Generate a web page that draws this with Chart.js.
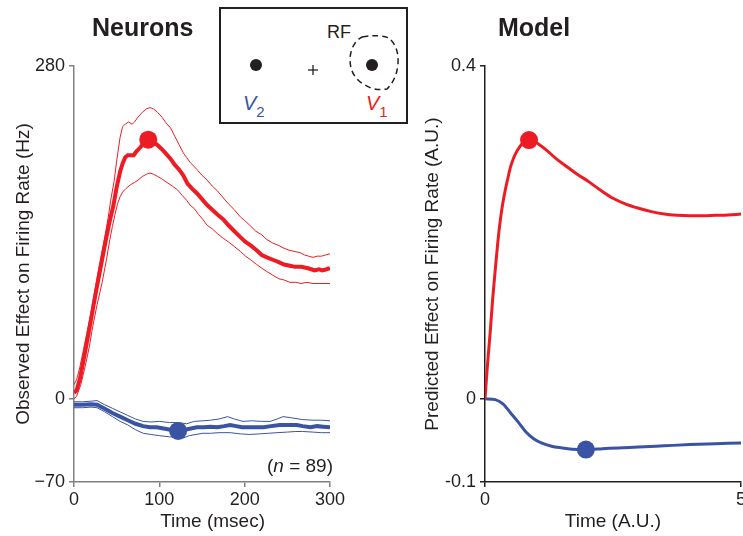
<!DOCTYPE html>
<html>
<head>
<meta charset="utf-8">
<script src="https://cdn.jsdelivr.net/npm/chart.js@4/dist/chart.umd.min.js"></script>
<style>
  body { margin: 0; width: 743px; height: 536px; overflow: hidden; background: #fff; position: relative;
         font-family: "Liberation Sans", Arial, sans-serif; color: #231f20; }
  .panel-title { position: absolute; top: 15px; font-size: 25px; font-weight: bold; line-height: 25px; }
  #left { position: absolute; left: 0; top: 0; }
  #right { position: absolute; left: 390px; top: 0; }
  #nlabel { position: absolute; right: 410px; top: 455px; font-size: 19px; }
</style>
</head>
<body>
<canvas id="left" width="360" height="536"></canvas>
<canvas id="right" width="370" height="536"></canvas>
<div class="panel-title" style="left:92px">Neurons</div>
<div class="panel-title" style="left:498px">Model</div>
<div id="nlabel">(<i>n</i> = 89)</div>
<svg style="position:absolute;left:219px;top:7px" width="190" height="120">
  <rect x="1" y="1" width="187" height="115" fill="#fff" stroke="#231f20" stroke-width="2"/>
  <circle cx="37" cy="58" r="6" fill="#231f20"/>
  <line x1="89" y1="63" x2="99" y2="63" stroke="#231f20" stroke-width="1.3"/>
  <line x1="94" y1="58" x2="94" y2="68" stroke="#231f20" stroke-width="1.3"/>
  <circle cx="153" cy="58" r="6" fill="#231f20"/>
  <path d="M143,30 Q160,27 170,31 Q180,40 179,56 Q178,72 168,82 Q155,84 146,78 Q131,70 131,52 Q132,36 143,30 Z"
        fill="none" stroke="#231f20" stroke-width="1.5" stroke-dasharray="6 4"/>
  <text x="108" y="31" font-size="18" fill="#231f20">RF</text>
  <text x="24" y="103" font-size="20" fill="#3a53a4"><tspan font-style="italic">V</tspan><tspan font-size="15" dy="7">2</tspan></text>
  <text x="147" y="103" font-size="20" fill="#ed1c24"><tspan font-style="italic">V</tspan><tspan font-size="15" dy="7">1</tspan></text>
</svg>
<script>
const red = "#ed1c24";
const blue = "#3a53a4";
const ink = "#231f20";

// Neurons: V1 (red) mean and +/- band, time in msec, rate in Hz
const v1MeanT = [0, 3, 7, 11, 15, 19, 22, 26, 30, 34, 38, 42, 46, 50, 54, 57, 60, 63, 66, 70, 73, 77, 82, 87, 92, 97, 103, 108, 113, 118, 123, 128, 133, 138, 144, 150, 156, 162, 168, 175, 181, 188, 195, 201, 207, 214, 220, 226, 233, 240, 246, 253, 259, 266, 273, 278, 282, 287, 291, 296, 300];
const v1Mean = [5, 7, 17, 32, 47, 63, 75, 91, 106, 121, 136, 150, 162, 178, 191, 198, 203, 205, 205, 205, 208, 211, 215, 218, 216, 214, 210, 206, 202, 197, 193, 188, 181, 177, 173, 168, 163, 159, 155, 151, 146, 141, 136, 132, 129, 125, 121, 119, 117, 115, 113, 112, 111, 111, 110, 109, 108, 109, 108, 109, 110];
const v1UpT = [0, 3, 7, 11, 15, 19, 23, 28, 32, 36, 40, 43, 47, 50, 54, 57, 60, 64, 68, 71, 75, 80, 85, 89, 93, 98, 103, 108, 113, 118, 123, 128, 132, 136, 140, 144, 150, 156, 162, 168, 175, 181, 188, 195, 200, 206, 213, 220, 226, 233, 240, 245, 252, 258, 265, 270, 275, 280, 285, 290, 295, 300];
const v1Up = [12, 16, 27, 41, 55, 69, 85, 106, 121, 136, 152, 167, 183, 200, 220, 229, 231, 233, 231, 233, 237, 241, 244, 245, 244, 241, 237, 232, 228, 221, 214, 207, 203, 199, 196, 193, 188, 184, 179, 175, 169, 164, 159, 153, 150, 146, 141, 138, 134, 131, 129, 127, 125, 124, 123, 121, 120, 119, 120, 120, 121, 122];
const v1LoT = [0, 3, 8, 13, 18, 22, 27, 33, 38, 42, 45, 48, 51, 54, 57, 61, 66, 71, 75, 80, 85, 89, 93, 98, 103, 109, 115, 121, 127, 132, 136, 141, 146, 151, 156, 162, 168, 175, 181, 188, 195, 201, 207, 214, 220, 226, 233, 240, 246, 253, 260, 266, 273, 280, 287, 293, 300];
const v1Lo = [0, 2, 12, 27, 44, 61, 79, 98, 117, 134, 145, 155, 164, 170, 174, 177, 180, 182, 184, 187, 189, 190, 189, 187, 185, 182, 179, 176, 171, 167, 163, 160, 155, 151, 146, 143, 139, 135, 132, 128, 124, 120, 117, 113, 110, 107, 104, 101, 100, 98, 98, 97, 98, 97, 97, 97, 97];

// Neurons: V2 (blue)
const v2MeanT = [0, 10, 20, 27, 35, 45, 54, 63, 72, 81, 89, 97, 105, 113, 122, 130, 137, 144, 152, 160, 168, 176, 183, 190, 197, 203, 212, 222, 231, 241, 250, 261, 268, 277, 285, 292, 300];
const v2Mean = [-5, -5, -4.5, -5, -8, -12, -15, -18, -21, -23, -24, -24, -25, -26, -27, -26, -25, -24, -24, -23.5, -24, -23, -22, -23, -24, -24, -24, -24, -23, -22, -22, -22, -23, -24, -23, -23.5, -24];
const v2UpT = [0, 10, 20, 27, 36, 45, 54, 63, 72, 81, 90, 100, 112, 122, 132, 141, 151, 160, 170, 180, 188, 198, 208, 220, 230, 238, 245, 255, 268, 280, 290, 300];
const v2Up = [-2.5, -2.5, -2, -1.5, -5, -8, -11, -14, -17, -19, -19.5, -19, -20, -20, -21, -19, -18.5, -18, -17, -15, -17, -19, -18.5, -19, -19, -17, -15, -16, -17.5, -18, -18, -18.5];
const v2LoT = [0, 10, 20, 27, 36, 45, 54, 63, 72, 81, 90, 100, 112, 120, 128, 135, 143, 151, 160, 170, 183, 195, 206, 218, 228, 238, 250, 260, 268, 280, 290, 300];
const v2Lo = [-7.5, -7.5, -7, -7.5, -11, -15, -19, -22, -26, -29, -30, -31, -32, -32, -33, -31, -30, -29, -29, -28.5, -28.5, -29.5, -30, -29.5, -29, -28.5, -28, -27.5, -27.5, -28, -28.5, -28.5];

const neuronPeaks = { v1: [87, 218], v2: [122, -27] };

// Model (A.U.)
const modelT1 = [0, 0.05, 0.1, 0.15, 0.2, 0.25, 0.3, 0.35, 0.4, 0.45, 0.5, 0.55, 0.6, 0.68, 0.75, 0.86, 0.95, 1.05, 1.2, 1.4, 1.6, 1.8, 2.0, 2.25, 2.5, 2.75, 3.0, 3.25, 3.5, 3.75, 4.0, 4.25, 4.5, 4.75, 5.0];
const modelV1 = [0, 0.042, 0.079, 0.12, 0.155, 0.188, 0.215, 0.236, 0.252, 0.266, 0.279, 0.288, 0.295, 0.303, 0.308, 0.311, 0.31, 0.306, 0.299, 0.288, 0.279, 0.27, 0.262, 0.251, 0.241, 0.234, 0.229, 0.225, 0.222, 0.2205, 0.22, 0.22, 0.2205, 0.221, 0.222];
const modelT2 = [0, 0.2, 0.35, 0.5, 0.65, 0.8, 0.95, 1.1, 1.3, 1.5, 1.7, 1.97, 2.3, 2.6, 3.0, 3.5, 4.0, 4.5, 5.0];
const modelV2 = [0, -0.001, -0.006, -0.017, -0.028, -0.04, -0.048, -0.053, -0.057, -0.059, -0.0605, -0.061, -0.06, -0.059, -0.058, -0.0565, -0.055, -0.054, -0.053];
const modelPeaks = { v1: [0.86, 0.311], v2: [1.97, -0.061] };

const neuronYTicks = [-70, 0, 280];
const neuronXTicks = [0, 100, 200, 300];
const modelYTicks = [-0.1, 0, 0.4];
const modelXTicks = [0, 5];

Chart.defaults.font.family = "'Liberation Sans', Arial, sans-serif";
Chart.defaults.color = ink;
Chart.defaults.animation = false;

const xy = (xs, ys) => xs.map((x, i) => ({ x: x, y: ys[i] }));

function line(data, color, width) {
  return { data: data, borderColor: color, borderWidth: width, pointRadius: 0, tension: 0, fill: false };
}
function dot(p, color) {
  return { data: [{ x: p[0], y: p[1] }], showLine: false, pointRadius: 9, pointBackgroundColor: color, pointBorderWidth: 0 };
}

function axis(opts) {
  const horizontal = opts.horizontal;
  return {
    type: "linear",
    min: opts.min,
    max: opts.max,
    afterBuildTicks: (s) => { s.ticks = opts.ticks.map((v) => ({ value: v })); },
    afterFit: (s) => { if (horizontal) s.height = 54; else s.width = opts.width; },
    ticks: { font: { size: 18 }, padding: horizontal ? 2 : 4, maxRotation: 0, autoSkip: false, callback: opts.label },
    grid: { drawOnChartArea: false, drawTicks: true, tickLength: 5, color: opts.color, lineWidth: 1.5 },
    border: { display: true, color: opts.color, width: 1.5 },
    title: { display: true, text: opts.title, font: { size: 19 }, padding: opts.titlePad },
  };
}

new Chart("left", {
  type: "line",
  data: {
    datasets: [
      dot(neuronPeaks.v1, red),
      dot(neuronPeaks.v2, blue),
      line(xy(v1MeanT, v1Mean), red, 4),
      line(xy(v2MeanT, v2Mean), blue, 4),
      line(xy(v1UpT, v1Up), red, 1),
      line(xy(v1LoT, v1Lo), red, 1),
      line(xy(v2UpT, v2Up), blue, 1),
      line(xy(v2LoT, v2Lo), blue, 1),
    ],
  },
  options: {
    responsive: false,
    layout: { padding: { left: 0, top: 66, right: 30, bottom: 0 } },
    plugins: { legend: { display: false }, tooltip: { enabled: false } },
    scales: {
      // leading spaces nudge the title right, as in the original figure
      x: axis({ horizontal: true, min: 0, max: 300, ticks: neuronXTicks, color: "#808080",
                title: "\u00a0\u00a0\u00a0\u00a0Time (msec)", titlePad: { top: 0, bottom: 3 } }),
      y: axis({ min: -70, max: 280, ticks: neuronYTicks, color: "#808080", width: 74,
                label: (v) => (v < 0 ? "\u2212" + Math.abs(v) : String(v)),
                title: "Observed Effect on Firing Rate (Hz)", titlePad: { top: 12, bottom: 0 } }),
    },
  },
});

new Chart("right", {
  type: "line",
  data: {
    datasets: [
      dot(modelPeaks.v1, red),
      dot(modelPeaks.v2, blue),
      { ...line(xy(modelT1, modelV1), red, 3), cubicInterpolationMode: "monotone" },
      { ...line(xy(modelT2, modelV2), blue, 3), cubicInterpolationMode: "monotone" },
    ],
  },
  options: {
    responsive: false,
    layout: { padding: { left: 0, top: 66, right: 19, bottom: 0 } },
    plugins: { legend: { display: false }, tooltip: { enabled: false } },
    scales: {
      x: axis({ horizontal: true, min: 0, max: 5, ticks: modelXTicks, color: ink,
                title: "Time (A.U.)", titlePad: { top: 0, bottom: 3 } }),
      y: axis({ min: -0.1, max: 0.4, ticks: modelYTicks, color: ink, width: 95,
                title: "Predicted Effect on Firing Rate (A.U.)", titlePad: { top: 31, bottom: 0 } }),
    },
  },
});
</script>
</body>
</html>
